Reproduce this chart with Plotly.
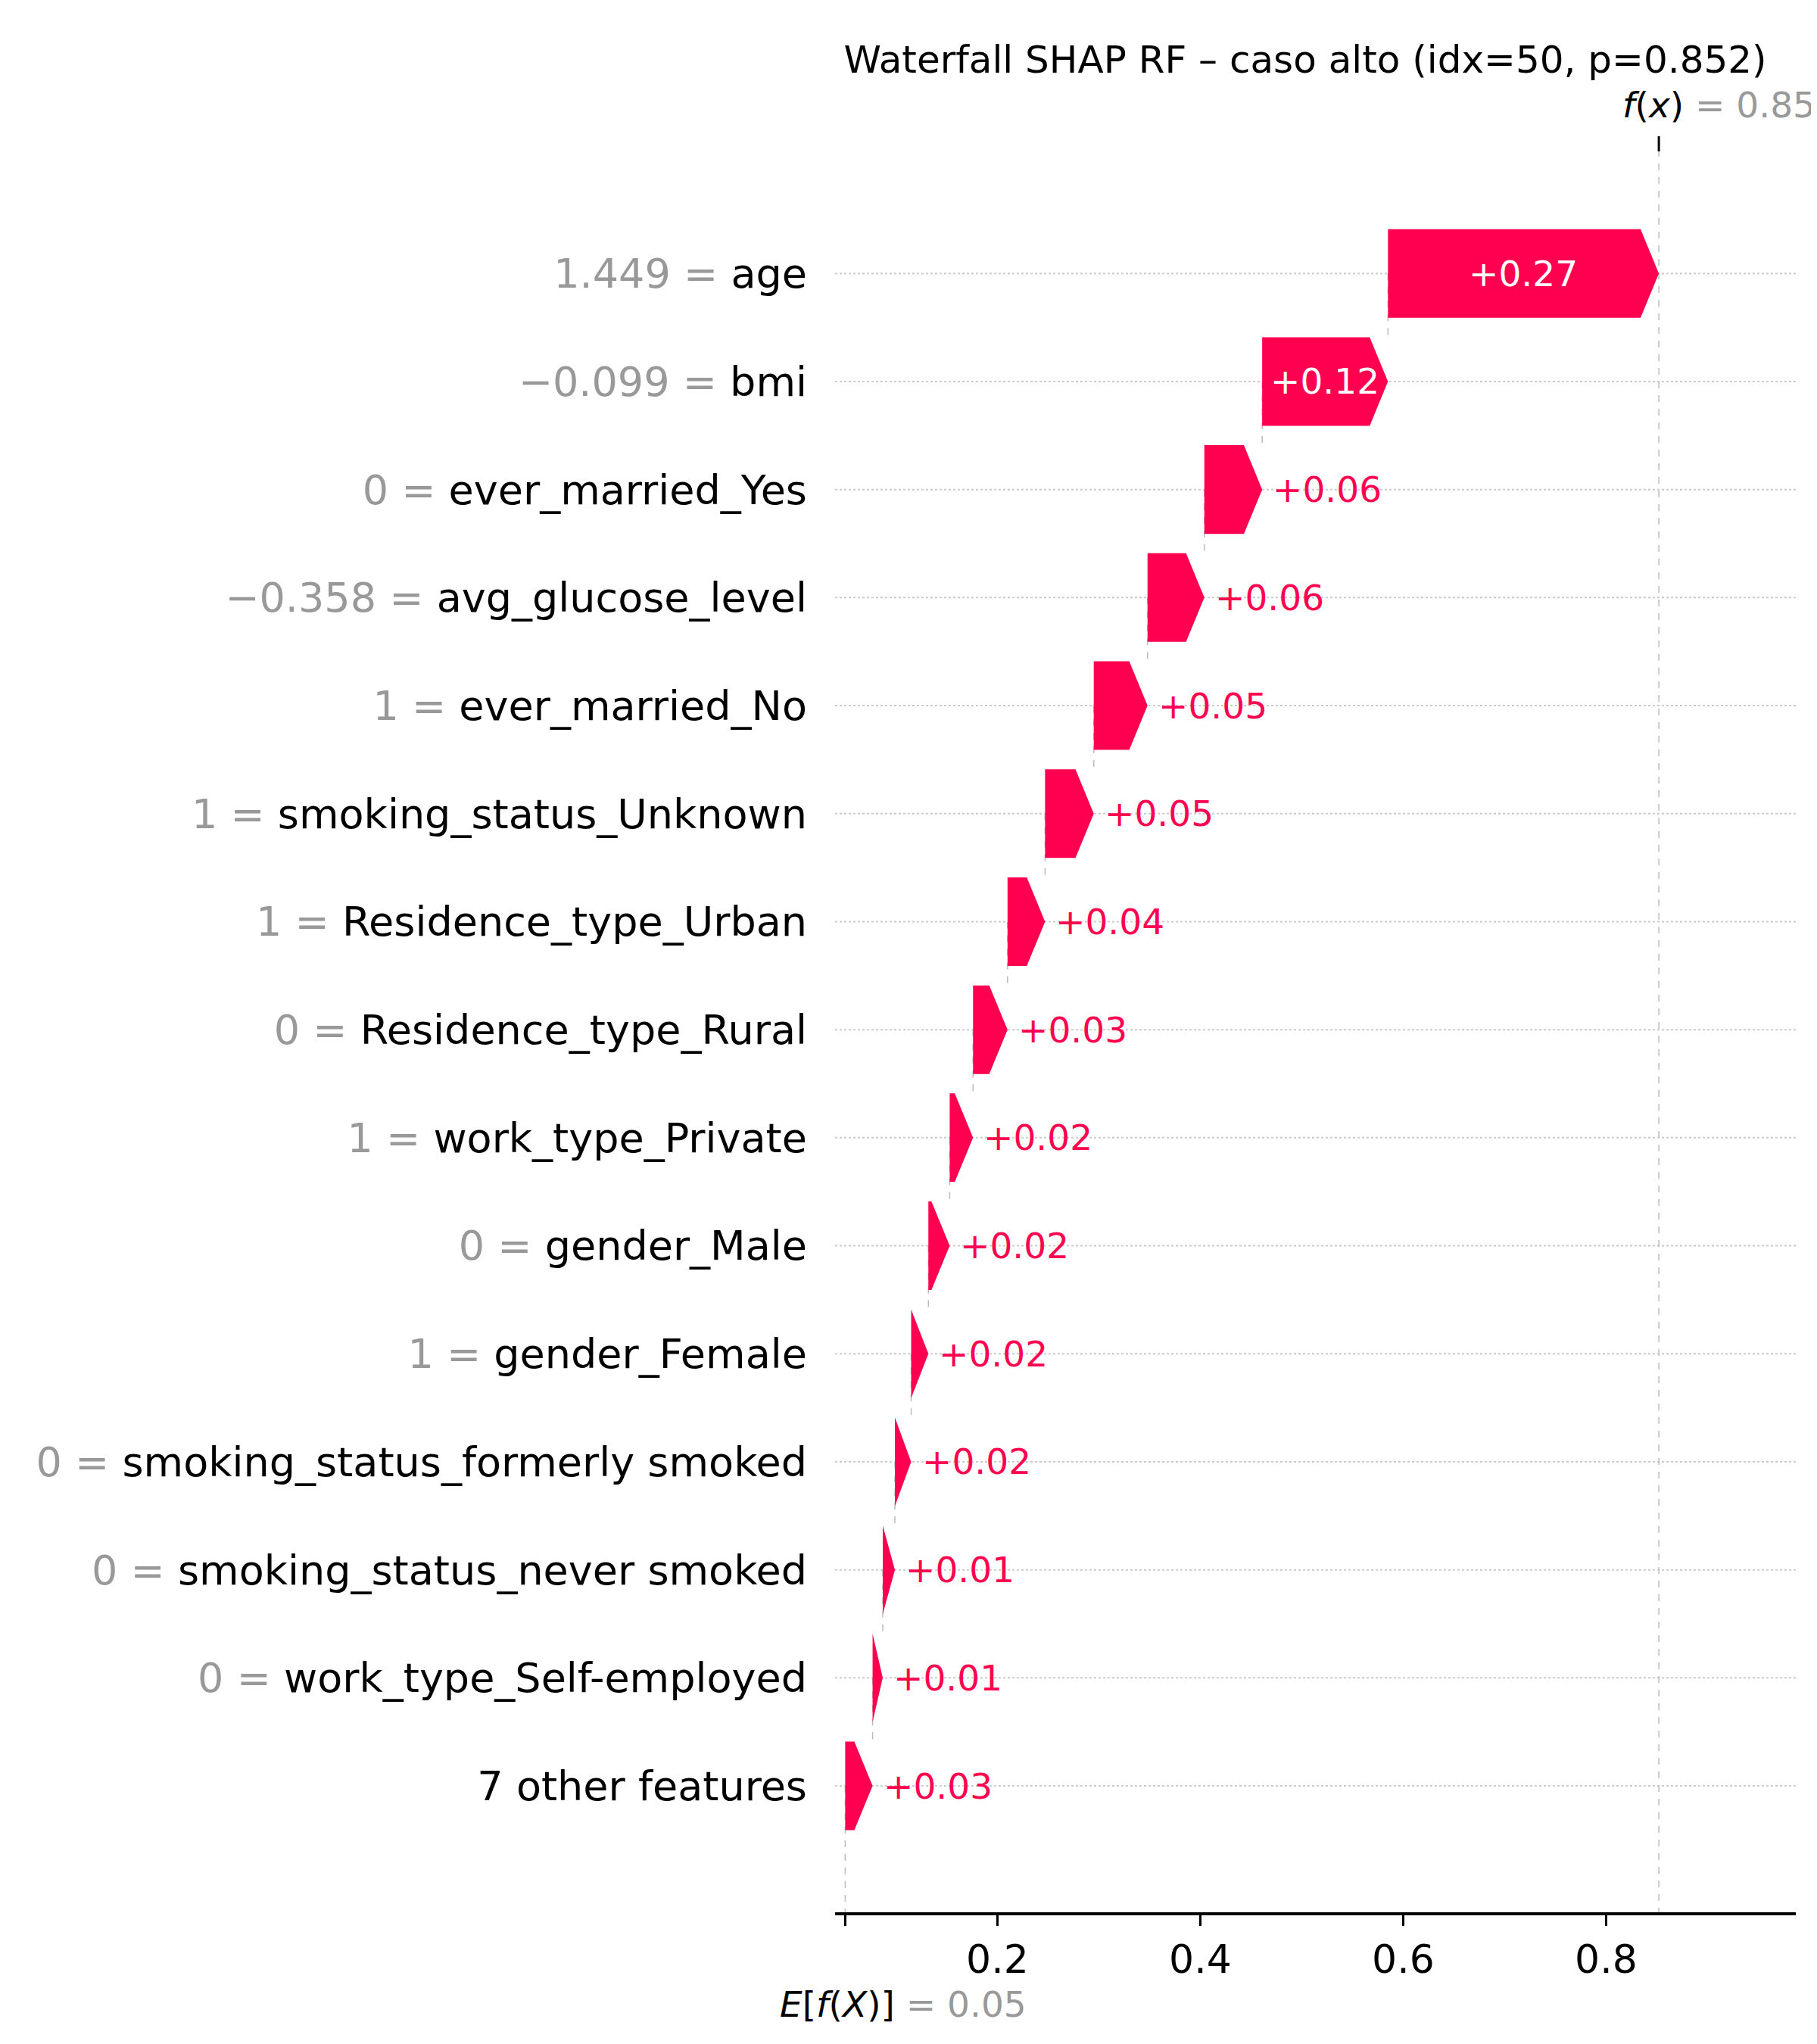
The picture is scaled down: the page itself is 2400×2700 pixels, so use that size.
import plotly.graph_objects as go

# SHAP waterfall values, top row first
features = ["age", "bmi", "ever_married_Yes", "avg_glucose_level", "ever_married_No",
            "smoking_status_Unknown", "Residence_type_Urban", "Residence_type_Rural",
            "work_type_Private", "gender_Male", "gender_Female",
            "smoking_status_formerly smoked", "smoking_status_never smoked",
            "work_type_Self-employed", "7 other features"]
feature_values = ["1.449", "\u22120.099", "0", "\u22120.358", "1", "1", "1", "0",
                  "1", "0", "1", "0", "0", "0", ""]
shap_values = [0.267, 0.124, 0.057, 0.056, 0.053, 0.048, 0.037, 0.034,
               0.023, 0.021, 0.017, 0.016, 0.012, 0.010, 0.027]
base_value = 0.05
fx_value = 0.852
tick_vals = [0.05, 0.2, 0.4, 0.6, 0.8]
tick_text = ["", "0.2", "0.4", "0.6", "0.8"]

PINK = "#ff0051"
GREY = "#999999"
n = len(features)
bh = 0.82
hl = 0.018

# cumulative positions: bottom row starts at base value
ends = [0.0] * n
starts = [0.0] * n
pos = base_value
for i in range(n - 1, -1, -1):
    starts[i] = pos
    pos += shap_values[i]
    ends[i] = pos

fig = go.Figure()

# dotted row guides
for i in range(n):
    fig.add_shape(type="line", x0=0.04, x1=0.987, y0=i, y1=i, layer="below",
                  line=dict(color="#cccccc", width=2, dash="dot"))

# dashed connectors between rows
for i in range(n - 1):
    fig.add_shape(type="line", x0=starts[i], x1=starts[i], y0=i, y1=i + 1 - bh / 2 + 0.02,
                  layer="below", line=dict(color="#bbbbbb", width=1.5, dash="dash"))
fig.add_shape(type="line", x0=base_value, x1=base_value, y0=n - 1, y1=n + 1.17,
              layer="below", line=dict(color="#bbbbbb", width=1.5, dash="dash"))
fig.add_shape(type="line", x0=fx_value, x1=fx_value, y0=-1.27, y1=n + 1.17,
              layer="below", line=dict(color="#bbbbbb", width=1.5, dash="dash"))
fig.add_shape(type="line", x0=fx_value, x1=fx_value, y0=-1.27, y1=-1.13,
              line=dict(color="black", width=3))

annotations = []
for i in range(n):
    s, e, v = starts[i], ends[i], shap_values[i]
    h = min(hl, v)
    mid = e - h
    xs = [s, mid, e, mid, s, s]
    ys = [i - bh / 2, i - bh / 2, i, i + bh / 2, i + bh / 2, i - bh / 2]
    fig.add_trace(go.Scatter(x=xs, y=ys, fill="toself", fillcolor=PINK, mode="lines",
                             line=dict(width=0, color=PINK), hoverinfo="skip",
                             showlegend=False))
    label = f"{v:+.2f}"
    if v > 0.1:
        annotations.append(dict(x=(s + e) / 2, y=i, text=label, showarrow=False,
                                font=dict(color="white", size=47)))
    else:
        annotations.append(dict(x=e, y=i, text=label, showarrow=False, xanchor="left",
                                xshift=12, font=dict(color=PINK, size=47)))

annotations.append(dict(x=fx_value, y=-1.27, yref="y", text="<i>f</i>(<i>x</i>) <span style='color:#999999'>= 0.85</span>",
                        showarrow=False, xanchor="left", yanchor="bottom", xshift=-50, yshift=12,
                        font=dict(size=47, color="black")))
annotations.append(dict(x=base_value, y=0, yref="paper", text="<i>E</i>[<i>f</i>(<i>X</i>)] <span style='color:#999999'>= 0.05</span>",
                        showarrow=False, xanchor="left", yanchor="top", xshift=-88, yshift=-92,
                        font=dict(size=47, color="black")))

ytext = [(f"<span style='color:{GREY}'>{fv} = </span>" if fv else "") + f
         for fv, f in zip(feature_values, features)]

fig.update_layout(
    width=2400, height=2700,
    paper_bgcolor="white", plot_bgcolor="white",
    font=dict(family="DejaVu Sans", color="black"),
    margin=dict(l=1095, r=36, t=172, b=182),
    title=dict(text="Waterfall SHAP RF \u2013 caso alto (idx=50, p=0.852)", x=0.715, xanchor="center",
               y=0.974, yanchor="middle", font=dict(size=50, color="black")),
    annotations=annotations,
    xaxis=dict(range=[0.04, 0.987], tickvals=tick_vals, ticktext=tick_text, showgrid=False,
               zeroline=False, showline=True, linecolor="black", linewidth=4,
               ticks="outside", ticklen=14, tickwidth=3, tickcolor="black",
               tickfont=dict(size=52, color="black")),
    yaxis=dict(range=[n + 0.17, -1.27], tickvals=list(range(n)), ticktext=ytext,
               showgrid=False, zeroline=False, showline=False, ticks="",
               tickfont=dict(size=54, color="black"), ticklabelstandoff=36),
)

fig.write_html("out.html")
